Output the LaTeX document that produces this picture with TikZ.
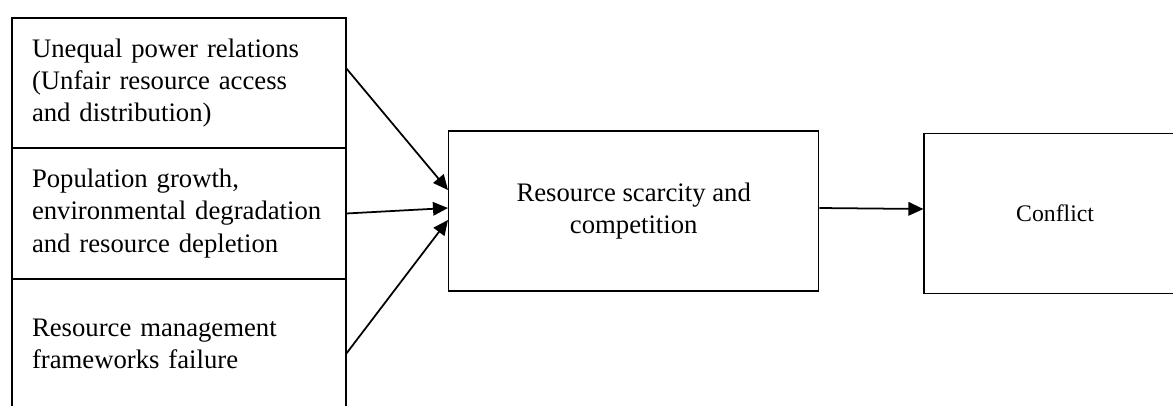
\documentclass[tikz,border=0pt]{standalone}
\usepackage{fontspec}
\setmainfont{Liberation Serif}
\usetikzlibrary{arrows.meta,positioning}

\begin{document}
\begin{tikzpicture}[>={Triangle[length=3mm,width=2.7mm]},node distance=20.4mm,
 cause/.style={draw,line width=0.8pt,outer sep=0pt,align=left,font=\fontsize{15.2}{18.4}\selectfont,text width=58.8mm,inner xsep=4mm,minimum height=26mm},
 box/.style={draw,line width=0.8pt,align=center,font=\fontsize{15.2}{18.4}\selectfont,minimum height=32mm},
 arrow/.style={->,line width=1pt}]
\useasboundingbox (0,0) rectangle (23.46,-8.1);
\node[cause,minimum height=26.2mm] (growth) at (3.58,-4.27) {Population growth,\\environmental degradation\\and resource depletion};
\node[cause,above=0pt of growth] (power) {Unequal power relations\\(Unfair resource access\\and distribution)};
\node[cause,below=0pt of growth] (failure) {Resource management\\frameworks failure};
\node[box,minimum width=74mm,right=of growth,yshift=0.5mm] (scarcity) {Resource scarcity and\\competition};
\node[box,minimum width=52.4mm,font=\fontsize{13.5}{16}\selectfont,right=20.8mm of scarcity,yshift=-0.5mm] (conflict) {Conflict};
\draw[arrow] ([yshift=3mm]power.east) -- ([yshift=4.2mm]scarcity.west);
\draw[arrow] (growth.east) -- ([yshift=0.6mm]scarcity.west);
\draw[arrow] ([yshift=-2mm]failure.east) -- ([yshift=-1.8mm]scarcity.west);
\draw[arrow] ([yshift=0.6mm]scarcity.east) -- ([yshift=0.9mm]conflict.west);
\end{tikzpicture}
\end{document}
